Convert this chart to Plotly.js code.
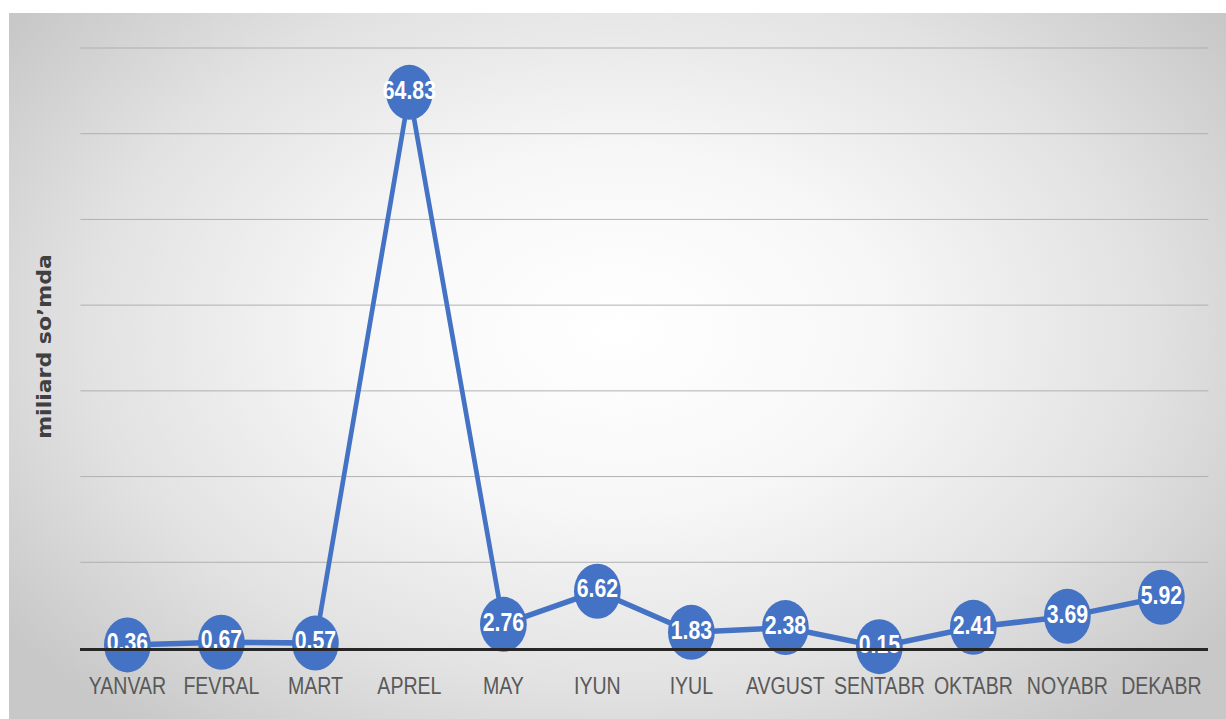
<!DOCTYPE html>
<html>
<head>
<meta charset="utf-8">
<script src="https://cdn.plot.ly/plotly-3.0.1.min.js"></script>
<style>
  html, body { margin: 0; padding: 0; background: #ffffff; width: 1226px; height: 719px; overflow: hidden; }
  #bg {
    position: absolute; left: 9px; top: 13px; width: 1217px; height: 706px; overflow: hidden;
    background: radial-gradient(ellipse 62% 72% at 50% 45%, #ffffff 0%, #f7f7f7 35%, #e2e2e2 70%, #c8c8c8 100%);
  }
  #chart {
    position: absolute; left: 0; top: 0; width: 1432px; height: 706px;
    transform: scaleX(0.85); transform-origin: 0 0;
  }
</style>
</head>
<body>
<div id="bg"><div id="chart"></div></div>
<script>
const months = ["YANVAR","FEVRAL","MART","APREL","MAY","IYUN","IYUL","AVGUST","SENTABR","OKTABR","NOYABR","DEKABR"];
const values = [0.36, 0.67, 0.57, 64.83, 2.76, 6.62, 1.83, 2.38, 0.15, 2.41, 3.69, 5.92];
const valueLabels = ["0.36","0.67","0.57","64.83","2.76","6.62","1.83","2.38","0.15","2.41","3.69","5.92"];
const yTitle = "miliard so\u2019mda";

const trace = {
  type: "scatter",
  mode: "lines+markers+text",
  x: months,
  y: values,
  text: valueLabels,
  textposition: "middle center",
  textfont: { family: "Liberation Sans, Arial, sans-serif", size: 25, color: "#ffffff", weight: "bold" },
  line: { color: "#4472C4", width: 5.5 },
  marker: { color: "#4472C4", size: 55 },
  cliponaxis: false,
  hoverinfo: "none"
};

const layout = {
  width: 1432, height: 706,
  margin: { l: 84, r: 21, t: 32, b: 71 },
  paper_bgcolor: "rgba(0,0,0,0)",
  plot_bgcolor: "rgba(0,0,0,0)",
  showlegend: false,
  xaxis: {
    type: "category",
    range: [-0.5, 11.5],
    showgrid: false,
    showline: true, linecolor: "#262626", linewidth: 3,
    ticks: "",
    tickangle: 0,
    ticklabelstandoff: 15,
    tickfont: { family: "Liberation Sans, Arial, sans-serif", size: 23, color: "#595959" },
    zeroline: false,
    fixedrange: true
  },
  yaxis: {
    range: [0, 70.35],
    tick0: 0,
    dtick: 10,
    showticklabels: false,
    ticks: "",
    showgrid: true, gridcolor: "#adadad", gridwidth: 1,
    zeroline: false,
    showline: false,
    title: { text: yTitle, standoff: 26, font: { family: "DejaVu Sans, sans-serif", size: 22, color: "#404040", weight: "bold" } },
    fixedrange: true
  }
};

Plotly.newPlot("chart", [trace], layout, { displayModeBar: false, staticPlot: true });
</script>
</body>
</html>
